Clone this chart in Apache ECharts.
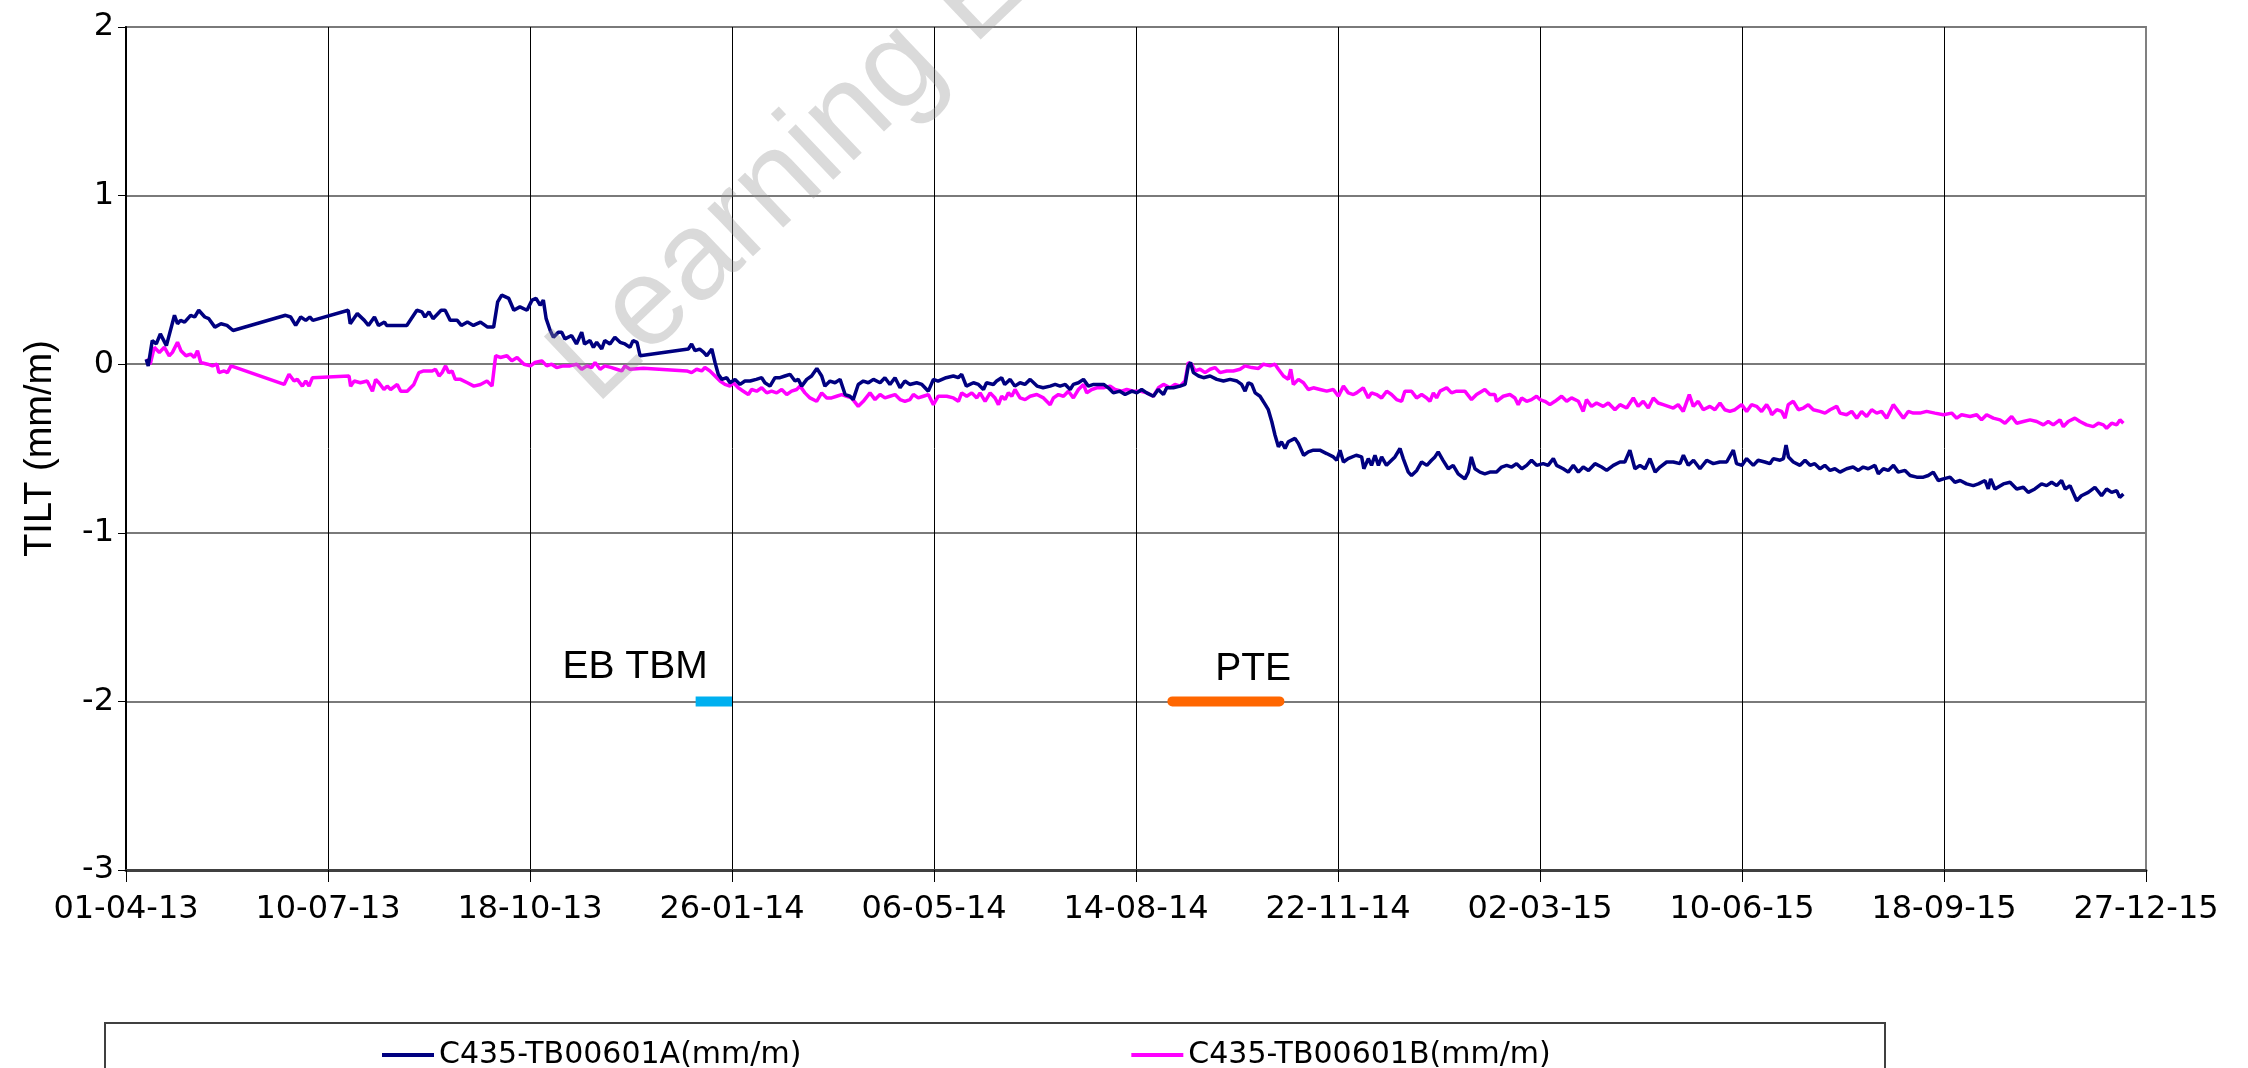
<!DOCTYPE html>
<html>
<head>
<meta charset="utf-8">
<title>C435-TB00601 tilt</title>
<script src="https://cdn.jsdelivr.net/npm/echarts@6/dist/echarts.min.js"></script>
<style>
  html, body { margin: 0; padding: 0; background: #fff; }
  #chart { width: 2248px; height: 1068px; }
</style>
</head>
<body>
<div id="chart"></div>
<script>
// x values are days counted from 01-04-13
var xTickLabels = ['01-04-13', '10-07-13', '18-10-13', '26-01-14', '06-05-14', '14-08-14',
    '22-11-14', '02-03-15', '10-06-15', '18-09-15', '27-12-15'];
var nameA = 'C435-TB00601A(mm/m)';
var nameB = 'C435-TB00601B(mm/m)';

var tiltA = [
    [10,0.03],[11,-0.01],[13,0.14],[15,0.12],[17,0.18],[20,0.11],[24,0.29],[25.5,0.24],[27,0.26],[29,0.25],
    [32,0.29],[34,0.28],[36,0.32],[39,0.28],[41,0.27],[44,0.22],[47,0.24],[50,0.23],[53,0.2],
    [79,0.29],[81.5,0.28],[84,0.23],[86.5,0.28],[89,0.26],[91,0.28],[92.5,0.26],
    [110,0.32],[111,0.24],[114.5,0.3],[118,0.26],[120,0.23],[123,0.28],[125,0.23],[128,0.25],[129,0.23],
    [139,0.23],[144,0.32],[146.5,0.31],[148,0.28],[150,0.31],[152,0.27],[156,0.32],[158,0.32],[160.5,0.26],
    [164,0.26],[166,0.23],[169,0.25],[172,0.23],[175.5,0.25],[179,0.22],[182,0.22],[184,0.37],[186,0.41],
    [189.5,0.39],[192,0.32],[195,0.34],[198.5,0.32],[201,0.38],[203,0.39],[205,0.35],[206.6,0.38],[208,0.27],
    [210,0.2],[211.6,0.16],[214,0.19],[215.7,0.19],[217.3,0.15],[220.6,0.17],[223,0.12],[225.6,0.19],[227,0.12],
    [229.7,0.14],[231.4,0.1],[233,0.13],[235.5,0.09],[237,0.14],[239.6,0.12],[242,0.16],[244.6,0.13],[247,0.12],
    [249.5,0.1],[251,0.14],[253,0.13],[254.5,0.05],
    [278.4,0.09],[280,0.12],[281.7,0.08],[284,0.09],[286,0.07],[287.5,0.05],[290,0.09],[291.6,0.01],[293.2,-0.06],
    [295,-0.09],[297.4,-0.08],[299,-0.11],[301.5,-0.09],[304,-0.12],[306.4,-0.1],[309,-0.1],[312,-0.09],[314.7,-0.08],
    [316.3,-0.11],[318.8,-0.13],[321.3,-0.08],[323.8,-0.08],[326.2,-0.07],[328.7,-0.06],[331.2,-0.1],[332.8,-0.09],
    [334.5,-0.13],[337,-0.09],[339.4,-0.07],[342,-0.025],[344.4,-0.07],[346,-0.13],[348.5,-0.1],[351,-0.11],
    [353.5,-0.09],[356,-0.18],[358.4,-0.19],[360,-0.21],[362.5,-0.12],[365,-0.1],[367.5,-0.11],[370,-0.09],
    [373.3,-0.11],[375.7,-0.08],[378.2,-0.12],[380.7,-0.08],[383.2,-0.14],[385.6,-0.1],[388,-0.12],[391.4,-0.11],
    [394,-0.12],[397.2,-0.16],[399.7,-0.09],[402,-0.1],[406,-0.08],[409.6,-0.07],[412,-0.08],[413.7,-0.06],
    [416,-0.13],[419.5,-0.11],[422,-0.12],[424.5,-0.15],[426,-0.11],[429.4,-0.12],[431,-0.1],[433.5,-0.08],
    [435,-0.12],[437.7,-0.09],[440,-0.13],[442.6,-0.11],[445,-0.12],[447.6,-0.09],[451,-0.13],[454,-0.14],
    [457.5,-0.13],[460,-0.12],[462.4,-0.13],[465,-0.12],[467.4,-0.15],[469,-0.12],[471.5,-0.11],[474,-0.09],
    [476.4,-0.13],[479,-0.12],[481.4,-0.12],[484,-0.12],[486.3,-0.14],[488.8,-0.17],[492,-0.16],[494.6,-0.18],
    [498,-0.16],[500.4,-0.17],[502.8,-0.15],[505.3,-0.17],[508.6,-0.19],[511,-0.15],[513.6,-0.18],[515.2,-0.14],
    [518.5,-0.14],[521.8,-0.13],[524.3,-0.12],[525.9,-0.01],[527,0.01],[528.4,-0.05],[531,-0.07],[533.4,-0.08],
    [536.7,-0.07],[540,-0.09],[543.3,-0.1],[546.6,-0.09],[550,-0.1],[552.3,-0.12],[554,-0.16],[555.6,-0.11],
    [557.3,-0.12],[559,-0.17],[561.4,-0.19],[564,-0.24],[565.5,-0.27],[567.2,-0.34],[568.8,-0.42],[570.5,-0.49],
    [572,-0.46],[573.8,-0.5],[575.4,-0.46],[578.7,-0.44],[580.4,-0.47],[583,-0.54],[585.3,-0.52],[587.8,-0.51],
    [591,-0.51],[594.4,-0.53],[597.7,-0.55],[599.4,-0.57],[601,-0.51],[602.7,-0.58],[605,-0.56],[609,-0.54],
    [611.7,-0.55],[612.8,-0.62],[615,-0.56],[616.6,-0.6],[618.3,-0.54],[620,-0.6],[621.6,-0.55],[624,-0.6],
    [626.5,-0.57],[628.2,-0.55],[630.7,-0.5],[632.3,-0.56],[634.8,-0.64],[636.4,-0.66],[639,-0.63],[641.4,-0.58],
    [644,-0.6],[646.3,-0.57],[648,-0.55],[649.6,-0.52],[652,-0.57],[654.6,-0.62],[657,-0.6],[659.5,-0.65],
    [662.8,-0.68],[664.5,-0.64],[666,-0.55],[667.8,-0.62],[670.3,-0.64],[672.7,-0.65],[675.2,-0.64],[678.5,-0.64],
    [681,-0.61],[683.5,-0.6],[686,-0.61],[688.4,-0.59],[691,-0.62],[693.4,-0.6],[695.8,-0.57],[698.3,-0.6],
    [701.6,-0.59],[704,-0.6],[706.6,-0.56],[708.2,-0.6],[711.5,-0.62],[714,-0.64],[716.5,-0.6],[719,-0.64],
    [721.4,-0.61],[724,-0.63],[727.2,-0.59],[730.5,-0.61],[733,-0.63],[736.3,-0.6],[739.6,-0.58],[742,-0.58],
    [744.5,-0.51],[747,-0.62],[749.5,-0.6],[752,-0.62],[754.4,-0.56],[757,-0.64],[759.4,-0.61],[762.7,-0.58],
    [766,-0.58],[769.3,-0.59],[771,-0.54],[773.4,-0.6],[776,-0.57],[779.2,-0.62],[782.5,-0.57],[785.8,-0.59],
    [789,-0.58],[792.4,-0.58],[795.7,-0.51],[797.3,-0.59],[800,-0.6],[802.3,-0.56],[805.6,-0.6],[808,-0.57],
    [811.3,-0.58],[813.8,-0.59],[815.5,-0.56],[818.8,-0.57],[820.5,-0.56],[821.8,-0.48],[823,-0.55],[825.4,-0.58],
    [828.7,-0.6],[831.2,-0.57],[833.7,-0.6],[836,-0.59],[838.6,-0.62],[841,-0.6],[843.6,-0.63],[846,-0.62],
    [848.5,-0.64],[851.8,-0.62],[855,-0.61],[857.6,-0.63],[860,-0.61],[862.5,-0.62],[865.8,-0.6],[867.5,-0.65],
    [870,-0.62],[872.4,-0.63],[875,-0.6],[877.4,-0.64],[880.7,-0.63],[883.2,-0.66],[886.5,-0.67],[889.8,-0.67],
    [892.2,-0.66],[894.7,-0.64],[897.2,-0.69],[899.7,-0.68],[903,-0.67],[905.4,-0.7],[908,-0.69],[911.2,-0.71],
    [914.5,-0.72],[917,-0.71],[920.3,-0.69],[921.9,-0.74],[923.1,-0.68],[925.2,-0.74],[929.4,-0.71],[932.7,-0.7],
    [936,-0.74],[939.3,-0.73],[941.7,-0.76],[945,-0.74],[948.3,-0.71],[950.8,-0.72],[953.3,-0.7],[955.8,-0.72],
    [958.2,-0.69],[960,-0.74],[962.4,-0.72],[965.7,-0.81],[968,-0.78],[971.4,-0.76],[974.7,-0.73],[978,-0.78],
    [980.5,-0.74],[983,-0.76],[985.5,-0.75],[987,-0.79],[988.8,-0.77]
];

var tiltB = [
    [10,0.03],[12,0],[14,0.1],[16.5,0.07],[19,0.1],[21.4,0.05],[23,0.07],[25.5,0.13],[27.2,0.08],[29.7,0.05],
    [32,0.06],[33.8,0.04],[35.4,0.08],[37,0.01],[40.4,0],[42.8,-0.01],[45,0],[46,-0.05],[48.6,-0.04],[50.2,-0.05],
    [52,-0.01],[78.3,-0.12],[80.7,-0.06],[83.2,-0.1],[84.8,-0.09],[87.3,-0.13],[89,-0.1],[90.6,-0.13],[92.3,-0.08],
    [110.4,-0.07],[111.2,-0.13],[113,-0.1],[116,-0.11],[119.4,-0.1],[122,-0.16],[123.6,-0.09],[125.2,-0.11],
    [127.7,-0.15],[129.3,-0.13],[131,-0.15],[134.3,-0.12],[136,-0.16],[139.2,-0.16],[142.5,-0.12],[145,-0.05],
    [147.4,-0.04],[151.6,-0.04],[153.2,-0.03],[155,-0.07],[156.5,-0.05],[158.2,-0.01],[159.8,-0.05],[161.4,-0.04],
    [163,-0.09],[165.6,-0.09],[169,-0.11],[172.2,-0.13],[175.5,-0.12],[178.7,-0.1],[181.2,-0.13],[183,0.05],
    [185.3,0.04],[188.6,0.05],[191,0.02],[193.6,0.04],[197,0],[200.2,-0.01],[202.5,0.01],[205.8,0.02],[208.3,-0.01],
    [210.7,0],[213.2,-0.02],[216.5,-0.01],[219.8,-0.01],[223.1,0],[225.6,-0.03],[228.1,-0.01],[230.5,-0.02],
    [232.2,0.01],[234.7,-0.03],[237.1,-0.01],[240.4,-0.02],[242.9,-0.03],[245.4,-0.04],[247,-0.01],[249.5,-0.03],
    [256.1,-0.024],[277.6,-0.04],[280,-0.05],[282.5,-0.03],[285,-0.04],[286.6,-0.02],[289.1,-0.04],[291.6,-0.07],
    [294.1,-0.1],[296.5,-0.12],[299,-0.13],[300.7,-0.11],[303.1,-0.14],[305.6,-0.16],[308.1,-0.18],[309.7,-0.15],
    [312.2,-0.16],[314.7,-0.14],[317.2,-0.17],[319.6,-0.16],[322.1,-0.17],[324.6,-0.15],[327.1,-0.18],[329.5,-0.16],
    [332,-0.15],[333.7,-0.13],[336.1,-0.17],[338.6,-0.2],[341.9,-0.22],[344.4,-0.17],[346.9,-0.2],[349.3,-0.2],
    [351.8,-0.19],[354.3,-0.18],[356.8,-0.19],[359.2,-0.2],[362.5,-0.25],[365,-0.22],[368.3,-0.17],[370.8,-0.21],
    [373.3,-0.18],[375.7,-0.2],[378.2,-0.19],[380.7,-0.18],[383.2,-0.21],[385.6,-0.22],[388.1,-0.21],[389.8,-0.18],
    [392.2,-0.2],[394.7,-0.19],[397.2,-0.18],[399.7,-0.24],[402.1,-0.19],[406.3,-0.19],[409.6,-0.2],[412.1,-0.22],
    [413.7,-0.17],[416.2,-0.19],[418.7,-0.17],[421.2,-0.2],[422.8,-0.17],[425.3,-0.22],[427.8,-0.17],[430.2,-0.2],
    [431.9,-0.24],[433.5,-0.19],[435.2,-0.21],[436.8,-0.17],[438.5,-0.19],[440.1,-0.15],[442.6,-0.2],[445.1,-0.21],
    [447.6,-0.19],[450.9,-0.18],[454.2,-0.2],[457.5,-0.24],[459.1,-0.2],[461.6,-0.18],[464.1,-0.19],[466.5,-0.16],
    [469,-0.2],[471.5,-0.15],[474,-0.12],[475.6,-0.17],[478.1,-0.15],[480.6,-0.14],[483.9,-0.14],[487.2,-0.13],
    [489.6,-0.15],[492.9,-0.16],[495.4,-0.15],[498.7,-0.16],[502,-0.16],[505.3,-0.17],[508.6,-0.19],[511.1,-0.14],
    [513.6,-0.12],[516.9,-0.14],[519.3,-0.12],[521.8,-0.13],[524.3,-0.1],[525.9,0.01],[527.6,0],[529.2,-0.04],
    [531.7,-0.03],[534.2,-0.05],[536.7,-0.03],[539.1,-0.02],[541.6,-0.05],[544.9,-0.04],[548.2,-0.04],[551.5,-0.03],
    [554,-0.01],[557.3,-0.02],[560.6,-0.025],[563.1,0],[566.4,-0.01],[568.8,0],[570.5,-0.03],[573,-0.07],
    [575.4,-0.09],[576.6,-0.03],[577.9,-0.12],[580.4,-0.09],[582.9,-0.11],[585.3,-0.15],[587.8,-0.14],[591.1,-0.15],
    [594.4,-0.16],[597.7,-0.15],[600.2,-0.19],[602.7,-0.13],[605.1,-0.17],[607.6,-0.18],[609.2,-0.17],[612.5,-0.14],
    [615,-0.2],[616.6,-0.17],[619.1,-0.18],[621.6,-0.2],[624.1,-0.16],[626.5,-0.18],[629,-0.21],[631.5,-0.22],
    [633.1,-0.16],[636.4,-0.16],[638.9,-0.2],[641.4,-0.18],[643.9,-0.2],[645.5,-0.22],[647.2,-0.17],[648.8,-0.2],
    [650.5,-0.16],[653.8,-0.14],[656.2,-0.17],[658.7,-0.16],[662.8,-0.16],[666.1,-0.21],[668.6,-0.18],[672.7,-0.15],
    [675.2,-0.18],[677.7,-0.18],[678.5,-0.22],[681.8,-0.19],[685.1,-0.18],[687.6,-0.2],[689.2,-0.24],[690.9,-0.2],
    [693.4,-0.22],[695.8,-0.21],[698.3,-0.19],[700,-0.21],[702.4,-0.22],[704.9,-0.24],[707.4,-0.22],[710.7,-0.19],
    [713.2,-0.22],[715.6,-0.2],[719,-0.22],[721.4,-0.28],[723,-0.21],[725.5,-0.25],[728,-0.23],[731.3,-0.25],
    [733.8,-0.23],[737.1,-0.27],[739.6,-0.24],[742.9,-0.26],[746.2,-0.2],[748.6,-0.25],[751.1,-0.22],[753.6,-0.26],
    [756.1,-0.2],[758.5,-0.23],[761,-0.24],[763.5,-0.25],[766,-0.26],[768.4,-0.24],[770.9,-0.28],[773.9,-0.18],
    [775.9,-0.25],[778.3,-0.22],[780.8,-0.27],[784.1,-0.25],[786.6,-0.27],[789.1,-0.23],[791.5,-0.27],[794,-0.28],
    [796.5,-0.27],[799.8,-0.24],[802.3,-0.28],[804.7,-0.24],[807.2,-0.25],[809.7,-0.28],[812.2,-0.24],[813.8,-0.27],
    [814.7,-0.3],[817.2,-0.27],[819.6,-0.28],[821.3,-0.32],[822.9,-0.24],[825.4,-0.22],[827.9,-0.27],[830.4,-0.26],
    [832.8,-0.24],[835.3,-0.27],[838.6,-0.28],[841.1,-0.29],[843.6,-0.27],[846.9,-0.25],[848.5,-0.29],[851.8,-0.3],
    [854.3,-0.28],[856.8,-0.32],[859.2,-0.28],[861.7,-0.31],[864.2,-0.27],[866.7,-0.29],[869.1,-0.28],[871.6,-0.32],
    [874.9,-0.24],[877.4,-0.28],[879.9,-0.32],[882.3,-0.28],[884.8,-0.29],[888.1,-0.29],[891.4,-0.28],[895.5,-0.29],
    [899.7,-0.3],[903.8,-0.29],[906.3,-0.32],[908.7,-0.3],[912.9,-0.31],[916.2,-0.3],[918.6,-0.33],[921.1,-0.3],
    [924.4,-0.32],[927.7,-0.33],[930.2,-0.35],[933.5,-0.31],[936,-0.35],[939.3,-0.34],[942.6,-0.33],[945.9,-0.34],
    [949.2,-0.36],[951.6,-0.34],[954.1,-0.36],[957.4,-0.33],[959.1,-0.37],[961.5,-0.34],[964.8,-0.32],[967.3,-0.34],
    [970.6,-0.36],[973.9,-0.37],[976.4,-0.35],[978.9,-0.36],[980.5,-0.38],[983,-0.35],[985.5,-0.36],[987.1,-0.33],
    [988.8,-0.35]
];

// construction periods drawn at -2
var ebTbm = [[282, -2], [300, -2]];
var pte = [[518, -2], [571, -2]];
var ebTbmLabel = [252, -1.8];
var pteLabel = [558, -1.81];

var myChart = echarts.init(document.getElementById('chart'));

myChart.setOption({
    animation: false,
    backgroundColor: '#fff',
    grid: {
        left: 126, right: 102, top: 27, bottom: 198,
        show: true, borderColor: '#808080', borderWidth: 2
    },
    legend: {
        data: [nameA, nameB],
        left: 377, top: 1035,
        itemGap: 330, itemWidth: 52, itemHeight: 4,
        icon: 'rect',
        selectedMode: false,
        textStyle: { fontFamily: 'DejaVu Sans', fontSize: 30, lineHeight: 30, color: '#000' }
    },
    xAxis: {
        type: 'value',
        min: 0, max: 1000, interval: 100,
        axisLine: { onZero: false, lineStyle: { color: '#404040', width: 3 } },
        axisTick: { show: true, length: 12, lineStyle: { color: '#000', width: 1 } },
        axisLabel: {
            margin: 24,
            fontFamily: 'DejaVu Sans', fontSize: 32, color: '#000',
            formatter: function (v) { return xTickLabels[Math.round(v / 100)]; }
        },
        splitLine: { show: true, showMaxLine: false, lineStyle: { color: '#000', width: 1 } }
    },
    yAxis: {
        type: 'value',
        min: -3, max: 2, interval: 1,
        name: 'TILT (mm/m)',
        nameLocation: 'middle',
        nameGap: 66,
        nameTextStyle: { fontFamily: 'Liberation Sans', fontSize: 38, color: '#000' },
        axisLine: { show: true, onZero: false, lineStyle: { color: '#000', width: 2 } },
        axisTick: { show: true, length: 8, lineStyle: { color: '#000', width: 1 } },
        axisLabel: { margin: 12, fontFamily: 'DejaVu Sans', fontSize: 32, color: '#000' },
        splitLine: { show: true, lineStyle: { color: '#7a7a7a', width: 2 } }
    },
    series: [
        {
            name: nameA, type: 'line', data: tiltA,
            showSymbol: false, symbol: 'none',
            color: '#000080',
            lineStyle: { color: '#000080', width: 3.5 },
            z: 3
        },
        {
            name: nameB, type: 'line', data: tiltB,
            showSymbol: false, symbol: 'none',
            color: '#ff00ff',
            lineStyle: { color: '#ff00ff', width: 3.5 },
            z: 2
        },
        {
            name: 'EB TBM', type: 'line', data: ebTbm,
            showSymbol: false, symbol: 'none',
            lineStyle: { color: '#00b0f0', width: 10, cap: 'butt' },
            markPoint: {
                symbol: 'rect', symbolSize: 1,
                itemStyle: { color: 'rgba(0,0,0,0)' },
                label: { show: true, position: 'inside', formatter: 'EB TBM',
                    fontFamily: 'Liberation Sans', fontSize: 39, color: '#000' },
                data: [{ coord: ebTbmLabel }]
            },
            z: 4
        },
        {
            name: 'PTE', type: 'line', data: pte,
            showSymbol: false, symbol: 'none',
            lineStyle: { color: '#ff6600', width: 10, cap: 'round' },
            markPoint: {
                symbol: 'rect', symbolSize: 1,
                itemStyle: { color: 'rgba(0,0,0,0)' },
                label: { show: true, position: 'inside', formatter: 'PTE',
                    fontFamily: 'Liberation Sans', fontSize: 39, color: '#000' },
                data: [{ coord: pteLabel }]
            },
            z: 4
        }
    ],
    graphic: [
        {
            // legend frame, runs off the bottom edge like the original
            type: 'rect', z: 1,
            shape: { x: 105, y: 1023, width: 1780, height: 80 },
            style: { fill: 'none', stroke: '#404040', lineWidth: 2 }
        },
        {
            // watermark
            type: 'text', z: 100,
            x: 572, y: 381,
            rotation: 43.6 * Math.PI / 180,
            style: {
                text: 'Learning E',
                font: '125px "Liberation Sans"',
                fill: 'rgba(150,150,150,0.35)',
                textAlign: 'left',
                textVerticalAlign: 'middle'
            }
        }
    ]
});
</script>
</body>
</html>
